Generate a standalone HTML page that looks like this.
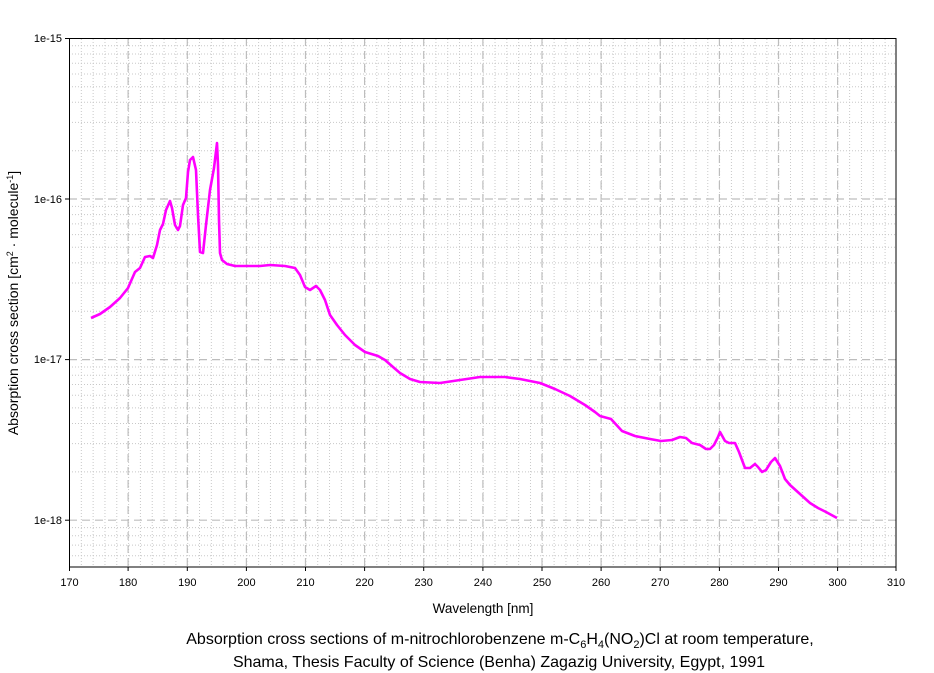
<!DOCTYPE html>
<html><head><meta charset="utf-8"><style>
html,body{margin:0;padding:0;background:#fff;}
svg{display:block;font-family:"Liberation Sans",Arial,sans-serif;}
</style></head><body>
<svg width="934" height="673" viewBox="0 0 934 673" xmlns="http://www.w3.org/2000/svg">
<defs>
<pattern id="xm" x="69" y="0" width="11.82" height="673" patternUnits="userSpaceOnUse">
<line x1="0.5" y1="0" x2="0.5" y2="673" stroke="#c8c8c8" stroke-width="1" stroke-dasharray="1,2"/>
</pattern>
</defs>
<rect x="69" y="38" width="827" height="529" fill="url(#xm)"/>
<g stroke="#c8c8c8" stroke-width="1" stroke-dasharray="1,2">
<line x1="69" x2="896" y1="150.7" y2="150.7"/><line x1="69" x2="896" y1="122.4" y2="122.4"/><line x1="69" x2="896" y1="102.3" y2="102.3"/><line x1="69" x2="896" y1="86.7" y2="86.7"/><line x1="69" x2="896" y1="74" y2="74"/><line x1="69" x2="896" y1="63.3" y2="63.3"/><line x1="69" x2="896" y1="54" y2="54"/><line x1="69" x2="896" y1="45.8" y2="45.8"/>
<line x1="69" x2="896" y1="311.3" y2="311.3"/><line x1="69" x2="896" y1="283" y2="283"/><line x1="69" x2="896" y1="262.9" y2="262.9"/><line x1="69" x2="896" y1="247.3" y2="247.3"/><line x1="69" x2="896" y1="234.6" y2="234.6"/><line x1="69" x2="896" y1="223.9" y2="223.9"/><line x1="69" x2="896" y1="214.6" y2="214.6"/><line x1="69" x2="896" y1="206.4" y2="206.4"/>
<line x1="69" x2="896" y1="471.9" y2="471.9"/><line x1="69" x2="896" y1="443.6" y2="443.6"/><line x1="69" x2="896" y1="423.5" y2="423.5"/><line x1="69" x2="896" y1="407.9" y2="407.9"/><line x1="69" x2="896" y1="395.2" y2="395.2"/><line x1="69" x2="896" y1="384.5" y2="384.5"/><line x1="69" x2="896" y1="375.2" y2="375.2"/><line x1="69" x2="896" y1="367" y2="367"/>
<line x1="69" x2="896" y1="527.6" y2="527.6"/><line x1="69" x2="896" y1="535.8" y2="535.8"/><line x1="69" x2="896" y1="545.1" y2="545.1"/><line x1="69" x2="896" y1="555.8" y2="555.8"/>
</g>
<g stroke="#bdbdbd" stroke-width="1.2" stroke-dasharray="8,5">
<line x1="69" x2="896" y1="199" y2="199"/><line x1="69" x2="896" y1="359.6" y2="359.6"/><line x1="69" x2="896" y1="520.2" y2="520.2"/>
<line y1="38" y2="567" x1="128.1" x2="128.1"/><line y1="38" y2="567" x1="187.3" x2="187.3"/><line y1="38" y2="567" x1="246.4" x2="246.4"/><line y1="38" y2="567" x1="305.5" x2="305.5"/><line y1="38" y2="567" x1="364.6" x2="364.6"/><line y1="38" y2="567" x1="423.7" x2="423.7"/><line y1="38" y2="567" x1="482.9" x2="482.9"/><line y1="38" y2="567" x1="542" x2="542"/><line y1="38" y2="567" x1="601.1" x2="601.1"/><line y1="38" y2="567" x1="660.2" x2="660.2"/><line y1="38" y2="567" x1="719.4" x2="719.4"/><line y1="38" y2="567" x1="778.5" x2="778.5"/><line y1="38" y2="567" x1="837.6" x2="837.6"/>
</g>
<rect x="69.5" y="38.5" width="826.5" height="528.5" fill="none" stroke="#000" stroke-width="1"/>
<g stroke="#000" stroke-width="1">
<line x1="65" x2="69" y1="38.5" y2="38.5"/><line x1="65" x2="69" y1="199" y2="199"/><line x1="65" x2="69" y1="359.6" y2="359.6"/><line x1="65" x2="69" y1="520.2" y2="520.2"/>
<line y1="567" y2="571" x1="69.5" x2="69.5"/><line y1="567" y2="571" x1="128.1" x2="128.1"/><line y1="567" y2="571" x1="187.3" x2="187.3"/><line y1="567" y2="571" x1="246.4" x2="246.4"/><line y1="567" y2="571" x1="305.5" x2="305.5"/><line y1="567" y2="571" x1="364.6" x2="364.6"/><line y1="567" y2="571" x1="423.7" x2="423.7"/><line y1="567" y2="571" x1="482.9" x2="482.9"/><line y1="567" y2="571" x1="542" x2="542"/><line y1="567" y2="571" x1="601.1" x2="601.1"/><line y1="567" y2="571" x1="660.2" x2="660.2"/><line y1="567" y2="571" x1="719.4" x2="719.4"/><line y1="567" y2="571" x1="778.5" x2="778.5"/><line y1="567" y2="571" x1="837.6" x2="837.6"/><line y1="567" y2="571" x1="896" x2="896"/>
</g>
<polyline fill="none" stroke="#ff00ff" stroke-width="2.6" stroke-linejoin="round" points="91,318 100,314 110,307 120,298 128,288 135,272 140,268 145,257 150,256 153,258 157,245 160,230 163,224 166,210 170,201 172,208 175,225 178,230 180,226 183,205 186,198 188,172 190,160 193,157 196,170 198,215 200,252 203,253 206,225 210,190 214,168 217,143 218,165 219,220 220,253 222,260 227,264 235,266 260,266 270,265 285,266 295,268 300,275 305,287 310,290 316,286 320,290 325,300 330,315 337,325 345,335 355,345 365,352 378,356 385,360 393,367 400,373 410,379 420,382 440,383 460,380 480,377 505,377 520,379 540,383 555,389 570,396 585,405 595,412 600,416 611,419 622,431 635,436 650,439 661,441 672,440 680,437 686,438 692,443 700,445 706,449 710,449 714,445 718,437 720,432 725,441 729,443 735,443 739,452 745,468 750,468 755,464 758,467 762,472 766,470 771,462 775,458 780,466 785,479 790,485 800,494 810,503 818,508 826,512 837,518"/>
<g font-size="11" fill="#000" text-anchor="end">
<text x="62" y="42">1e-15</text><text x="62" y="203">1e-16</text><text x="62" y="363">1e-17</text><text x="62" y="524">1e-18</text>
</g>
<g font-size="11" fill="#000" text-anchor="middle">
<text x="69.5" y="586">170</text><text x="128.1" y="586">180</text><text x="187.3" y="586">190</text><text x="246.4" y="586">200</text><text x="305.5" y="586">210</text><text x="364.6" y="586">220</text><text x="423.7" y="586">230</text><text x="482.9" y="586">240</text><text x="542" y="586">250</text><text x="601.1" y="586">260</text><text x="660.2" y="586">270</text><text x="719.4" y="586">280</text><text x="778.5" y="586">290</text><text x="837.6" y="586">300</text><text x="896" y="586">310</text>
<text x="483" y="613" font-size="13.5">Wavelength [nm]</text>
<text x="500" y="644" font-size="16">Absorption cross sections of m-nitrochlorobenzene m-C<tspan font-size="11" dy="4">6</tspan><tspan dy="-4">H</tspan><tspan font-size="11" dy="4">4</tspan><tspan dy="-4">(NO</tspan><tspan font-size="11" dy="4">2</tspan><tspan dy="-4">)Cl at room temperature,</tspan></text>
<text x="499" y="667" font-size="16">Shama, Thesis Faculty of Science (Benha) Zagazig University, Egypt, 1991</text>
</g>
<text transform="translate(18,303) rotate(-90)" font-size="14" text-anchor="middle">Absorption cross section [cm<tspan font-size="9" dy="-5">2</tspan><tspan dy="5"> · molecule</tspan><tspan font-size="9" dy="-5">-1</tspan><tspan dy="5">]</tspan></text>
</svg>
</body></html>
